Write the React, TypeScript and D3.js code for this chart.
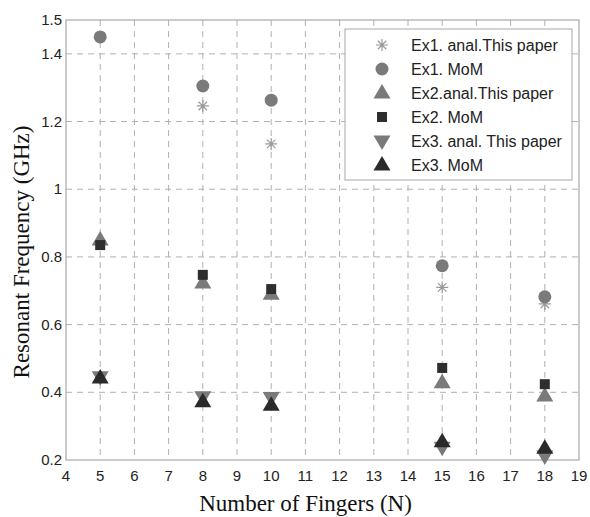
import * as d3 from 'd3';

// number of fingers
const fingers = [5, 8, 10, 15, 18];

// resonant frequency (GHz) per series
const ex1Anal = [1.45, 1.246, 1.134, 0.71, 0.661];
const ex1MoM = [1.45, 1.305, 1.263, 0.774, 0.682];
const ex2Anal = [0.85, 0.723, 0.69, 0.428, 0.389];
const ex2MoM = [0.835, 0.747, 0.705, 0.472, 0.424];
const ex3Anal = [0.446, 0.387, 0.385, 0.238, 0.212];
const ex3MoM = [0.442, 0.372, 0.362, 0.254, 0.235];

const xTicks = d3.range(4, 20);
const yTicks = [0.2, 0.4, 0.6, 0.8, 1, 1.2, 1.4, 1.5];
const yTickLabels = ['0.2', '0.4', '0.6', '0.8', '1', '1.2', '1.4', '1.5'];

const series = [
  { name: 'Ex1. anal.This paper', values: ex1Anal, shape: 'star', color: '#9a9a9a' },
  { name: 'Ex1. MoM', values: ex1MoM, shape: 'circle', color: '#7a7a7a' },
  { name: 'Ex2.anal.This paper', values: ex2Anal, shape: 'up', color: '#7a7a7a' },
  { name: 'Ex2. MoM', values: ex2MoM, shape: 'square', color: '#2e2e2e' },
  { name: 'Ex3. anal. This paper', values: ex3Anal, shape: 'down', color: '#7a7a7a' },
  { name: 'Ex3. MoM', values: ex3MoM, shape: 'up', color: '#2a2a2a' },
];

const W = 590;
const H = 517;
const m = { left: 66, right: 11, top: 20, bottom: 57 };

function Marker({ shape, color, x, y }: { shape: string; color: string; x: number; y: number }) {
  if (shape === 'circle') return <circle cx={x} cy={y} r={6.5} fill={color} />;
  if (shape === 'square') return <rect x={x - 5} y={y - 5} width={10} height={10} fill={color} />;
  if (shape === 'up')
    return <path d={`M${x},${y - 9}L${x + 8.5},${y + 5.5}L${x - 8.5},${y + 5.5}Z`} fill={color} />;
  if (shape === 'down')
    return <path d={`M${x},${y + 9}L${x + 8.5},${y - 5.5}L${x - 8.5},${y - 5.5}Z`} fill={color} />;
  // asterisk
  const r = 6;
  const arms = [0, 45, 90, 135].map((a) => {
    const t = (a * Math.PI) / 180;
    return `M${x - r * Math.cos(t)},${y - r * Math.sin(t)}L${x + r * Math.cos(t)},${y + r * Math.sin(t)}`;
  });
  return <path d={arms.join('')} stroke={color} strokeWidth={1.2} fill="none" />;
}

export default function App() {
  const x = d3.scaleLinear().domain([4, 19]).range([m.left, W - m.right]);
  const y = d3.scaleLinear().domain([0.2, 1.5]).range([H - m.bottom, m.top]);
  const tickFont = 'Liberation Sans, Arial, sans-serif';
  const gridColor = '#b0b0b0';

  return (
    <svg width={W} height={H} style={{ position: 'absolute', left: 0, top: 0, background: '#fff' }}>
      {/* grid */}
      {xTicks.slice(1, -1).map((t) => (
        <line key={'gx' + t} x1={x(t)} x2={x(t)} y1={y(1.5)} y2={y(0.2)} stroke={gridColor} strokeDasharray="6,5" />
      ))}
      {yTicks.filter((t) => t > 0.2 && t < 1.5).map((t) => (
        <line key={'gy' + t} x1={x(4)} x2={x(19)} y1={y(t)} y2={y(t)} stroke={gridColor} strokeDasharray="6,5" />
      ))}
      <rect x={x(4)} y={y(1.5)} width={x(19) - x(4)} height={y(0.2) - y(1.5)} fill="none" stroke="#a8a8a8" strokeWidth={1.2} />
      {/* tick labels */}
      {xTicks.map((t) => (
        <text key={'tx' + t} x={x(t)} y={y(0.2) + 21} textAnchor="middle" fontFamily={tickFont} fontSize={15} fill="#222">
          {t}
        </text>
      ))}
      {yTicks.map((t, i) => (
        <text key={'ty' + t} x={x(4) - 4} y={y(t) + 5} textAnchor="end" fontFamily={tickFont} fontSize={15} fill="#222">
          {yTickLabels[i]}
        </text>
      ))}
      {/* axis titles */}
      <text x={(x(4) + x(19)) / 2 - 17} y={511} textAnchor="middle" fontFamily="Liberation Serif, Times New Roman, serif" fontSize={23} fill="#111">
        Number of Fingers (N)
      </text>
      <text
        transform={`translate(29,${(y(1.5) + y(0.2)) / 2 + 12}) rotate(-90)`}
        textAnchor="middle"
        fontFamily="Liberation Serif, Times New Roman, serif"
        fontSize={23}
        fill="#111"
      >
        Resonant Frequency (GHz)
      </text>
      {/* data */}
      {series.map((s) =>
        s.values.map((v, i) => (
          <Marker key={s.name + i} shape={s.shape} color={s.color} x={x(fingers[i])} y={y(v)} />
        ))
      )}
      {/* legend */}
      <g>
        <rect x={345} y={29} width={227} height={151} fill="#fff" stroke="#a8a8a8" />
        {series.map((s, i) => (
          <g key={'lg' + s.name}>
            <Marker shape={s.shape} color={s.color} x={382} y={45 + i * 24} />
            <text x={411} y={45 + i * 24 + 5.5} fontFamily={tickFont} fontSize={16} fill="#222">
              {s.name}
            </text>
          </g>
        ))}
      </g>
    </svg>
  );
}
